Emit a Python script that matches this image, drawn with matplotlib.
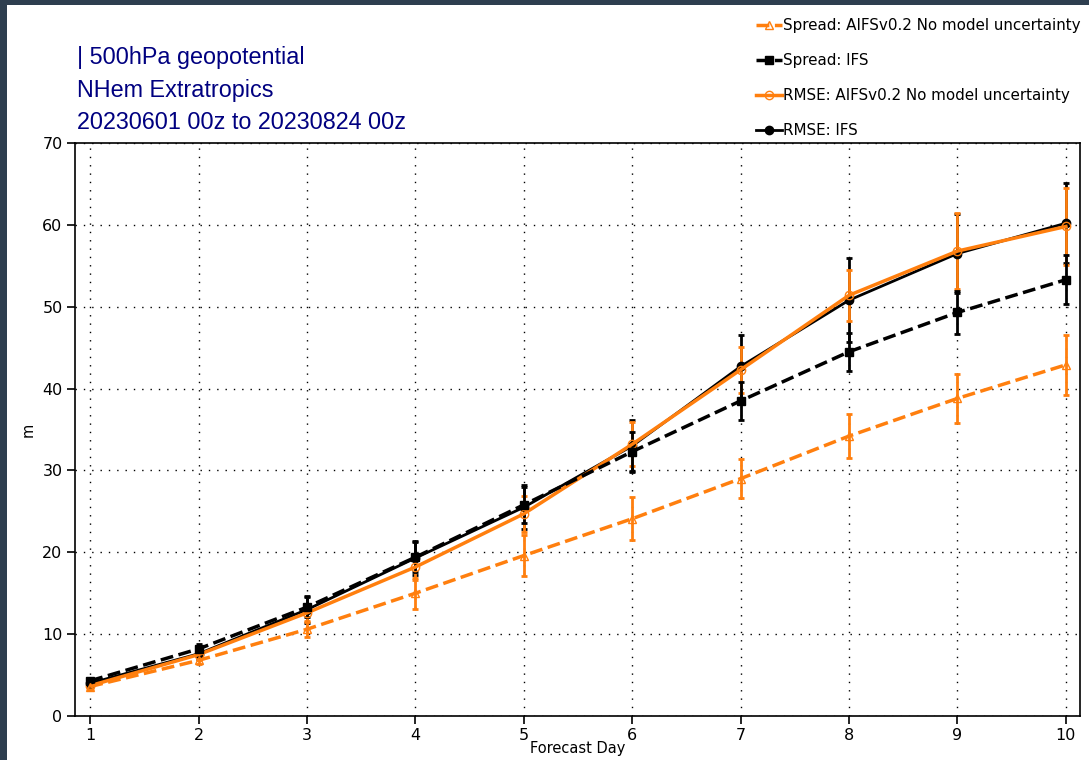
import numpy as np
import matplotlib
matplotlib.use("Agg")
import matplotlib.pyplot as plt
from matplotlib.patches import Rectangle
from matplotlib.lines import Line2D

days = [1, 2, 3, 4, 5, 6, 7, 8, 9, 10]

rmse_ifs = [4.0, 7.6, 13.0, 19.3, 25.5, 33.0, 42.7, 50.8, 56.5, 60.2]
rmse_ifs_err = [0.4, 0.6, 1.6, 2.1, 2.7, 3.2, 3.9, 5.1, 4.8, 4.9]

rmse_aifs = [3.7, 7.5, 12.6, 18.2, 24.7, 33.2, 42.3, 51.4, 56.8, 59.8]
rmse_aifs_err = [0.4, 0.6, 1.1, 1.6, 2.2, 2.7, 2.8, 3.1, 4.6, 4.7]

spread_ifs = [4.3, 8.2, 13.3, 19.4, 25.8, 32.3, 38.5, 44.5, 49.3, 53.3]
spread_ifs_err = [0.4, 0.6, 1.2, 1.8, 2.2, 2.4, 2.3, 2.3, 2.6, 3.0]

spread_aifs = [3.6, 6.8, 10.6, 15.0, 19.6, 24.1, 29.0, 34.2, 38.8, 42.9]
spread_aifs_err = [0.4, 0.5, 1.0, 1.9, 2.5, 2.6, 2.4, 2.7, 3.0, 3.7]

title_lines = ["| 500hPa geopotential", "NHem Extratropics", "20230601 00z to 20230824 00z"]

orange = "#ff7f0e"

fig = plt.figure(figsize=(10.89, 7.6), dpi=100)
fig.patch.set_facecolor("#2e3e4f")
# white page inside the dark screenshot border
fig.add_artist(Rectangle((7 / 1089, 0), 1, 1 - 5 / 760, transform=fig.transFigure,
                         facecolor="white", edgecolor="none", zorder=-10))

ax = fig.add_axes([75 / 1089, 44 / 760, 1005 / 1089, 573 / 760])

common = dict(capsize=2, capthick=2, elinewidth=2)
ax.errorbar(days, rmse_ifs, yerr=rmse_ifs_err, color="black", ecolor="black",
            lw=2, marker="o", ms=6, **common)
ax.errorbar(days, rmse_aifs, yerr=rmse_aifs_err, color=orange, ecolor=orange,
            lw=2.5, marker="o", ms=6, mfc="none", **common)
ax.errorbar(days, spread_ifs, yerr=spread_ifs_err, color="black", ecolor="black",
            lw=2.5, ls="--", marker="s", ms=6, **common)
ax.errorbar(days, spread_aifs, yerr=spread_aifs_err, color=orange, ecolor=orange,
            lw=2.5, ls="--", marker="^", ms=6, mfc="none", **common)

ax.set_xlim(0.86, 10.13)
ax.set_ylim(0, 70)
ax.set_xticks(days)
ax.set_yticks(range(0, 71, 10))
ax.grid(True, color="black", linestyle=(0, (1, 5)), linewidth=1)
ax.tick_params(labelsize=11.5, direction="out", length=6, width=1.2, pad=3)
for s in ax.spines.values():
    s.set_linewidth(1.2)
ax.set_xlabel("Forecast Day", fontsize=10.5, labelpad=-2)
ax.set_ylabel("m", fontsize=10.5, labelpad=5)

fig.text(77 / 1089, 1 - 46 / 760, "\n".join(title_lines), color="#000080",
         fontsize=16.8, family="Liberation Sans", va="top", ha="left", linespacing=1.53)

handles = [
    Line2D([], [], color=orange, lw=2.5, ls="--", marker="^", ms=6, mfc="none"),
    Line2D([], [], color="black", lw=2.5, ls="--", marker="s", ms=6),
    Line2D([], [], color=orange, lw=2.5, marker="o", ms=6, mfc="none"),
    Line2D([], [], color="black", lw=2, marker="o", ms=6),
]
labels = ["Spread: AIFSv0.2 No model uncertainty", "Spread: IFS",
          "RMSE: AIFSv0.2 No model uncertainty", "RMSE: IFS"]
fig.legend(handles, labels, loc="upper left", bbox_to_anchor=(756 / 1089, 1 - 18 / 760),
           frameon=False, fontsize=10.9, handlelength=1.7, handletextpad=0.1,
           labelspacing=1.33, borderpad=0, borderaxespad=0)

fig.savefig("out.png", dpi=100, facecolor=fig.get_facecolor())
